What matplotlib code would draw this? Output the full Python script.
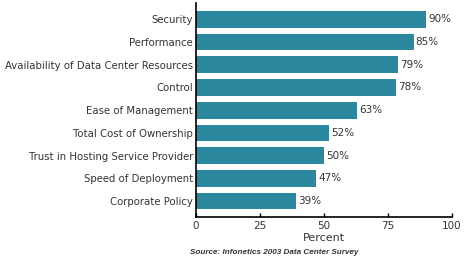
import matplotlib
matplotlib.use("Agg")
import matplotlib.pyplot as plt

# survey data (top to bottom as in the chart)
categories = ["Security", "Performance", "Availability of Data Center Resources",
              "Control", "Ease of Management", "Total Cost of Ownership",
              "Trust in Hosting Service Provider", "Speed of Deployment",
              "Corporate Policy"]
values = [90, 85, 79, 78, 63, 52, 50, 47, 39]
xticks = [0, 25, 50, 75, 100]

bar_color = "#2c889f"
text_color = "#333333"

fig = plt.figure(figsize=(4.66, 2.63), dpi=100)
ax = fig.add_axes([0.4206, 0.175, 0.5494, 0.8136])

cats = categories[::-1]
vals = values[::-1]
pos = list(range(len(cats)))
ax.barh(pos, vals, height=0.74, color=bar_color, zorder=2)

for y, v in zip(pos, vals):
    ax.text(v + 0.8, y, f"{v}%", va="center", ha="left",
            fontsize=7.5, color=text_color)

ax.set_yticks(pos)
ax.set_yticklabels(cats, fontsize=7.3, color=text_color)
ax.tick_params(axis="y", length=0, pad=2)
ax.set_xticks(xticks)
ax.set_xticklabels([str(t) for t in xticks], fontsize=7.5, color=text_color)
ax.tick_params(axis="x", direction="in", length=3, width=1, pad=3)

ax.set_xlim(0, 100)
ax.set_ylim(-0.7, 8.72)
for s in ["top", "right"]:
    ax.spines[s].set_visible(False)
for s in ["left", "bottom"]:
    ax.spines[s].set_linewidth(1.2)
    ax.spines[s].set_color("black")

ax.set_xlabel("Percent", fontsize=8, color=text_color, labelpad=1)

fig.text(190 / 466, 1 - 253 / 263, "Source: Infonetics 2003 Data Center Survey",
         fontsize=5.9, family="Liberation Sans", style="italic", weight="bold",
         color=text_color, ha="left", va="center")

fig.savefig("out.png", dpi=100)
